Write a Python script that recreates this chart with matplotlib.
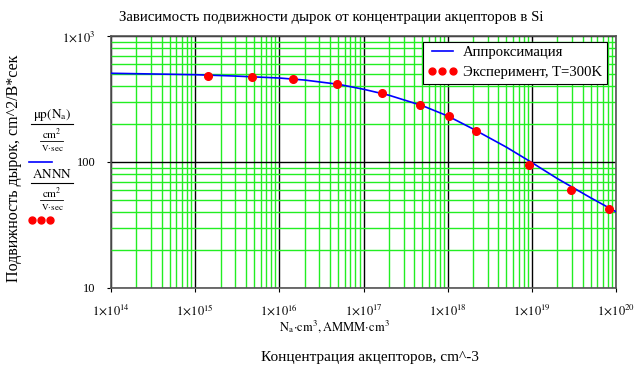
import numpy as np
import matplotlib
matplotlib.use("Agg")
import matplotlib.pyplot as plt
from matplotlib.ticker import FixedLocator, LogLocator, NullFormatter
from matplotlib.lines import Line2D

plt.rcParams["font.family"] = ["Liberation Serif", "DejaVu Serif"]
plt.rcParams["mathtext.fontset"] = "stix"

# experimental points (Na, cm^-3 ; mobility, cm^2/V*s)
exp_na = [1.43e15, 4.7e15, 1.45e16, 4.9e16, 1.66e17, 4.7e17,
          1.03e18, 2.2e18, 9.25e18, 2.9e19, 8.2e19]
exp_mu = [484, 475, 453, 416, 351, 285, 230, 175, 94.6, 59.6, 42.1]

# approximation curve
fit_na = [1e14, 1e15, 3e15, 1e16, 2e16, 5e16, 1e17, 2e17, 5e17, 1e18,
          2e18, 5e18, 1e19, 2e19, 5e19, 1e20]
fit_mu = [506, 493, 481, 464, 447, 414, 378, 339, 280, 232,
          183, 131, 99, 74, 52, 40.3]

xticks = [1e14, 1e15, 1e16, 1e17, 1e18, 1e19, 1e20]
xticklabels = [r"$1\!\times\!10^{%d}$" % p for p in range(14, 21)]
yticks = [10, 100, 1000]
yticklabels = ["10", "100", r"$1\!\times\!10^{3}$"]

fig = plt.figure(figsize=(6.43, 3.74), dpi=100)
ax = fig.add_axes([111 / 643, 1 - 288 / 374, 505 / 643, 252 / 374])

ax.plot(fit_na, fit_mu, color="#0000ff", lw=1.2, label="Аппроксимация", zorder=3)
ax.plot(exp_na, exp_mu, ls="none", marker="o", ms=5.5, color="#ff0000",
        label="Эксперимент, T=300K", zorder=4)

ax.set_xscale("log")
ax.set_yscale("log")
ax.set_xlim(1e14, 1e20)
ax.set_ylim(10, 1000)

ax.xaxis.set_major_locator(FixedLocator(xticks))
ax.set_xticklabels(xticklabels)
ax.yaxis.set_major_locator(FixedLocator(yticks))
ax.set_yticklabels(yticklabels)
ax.xaxis.set_minor_locator(LogLocator(base=10, subs=np.arange(2, 10), numticks=20))
ax.yaxis.set_minor_locator(LogLocator(base=10, subs=np.arange(2, 10), numticks=20))
ax.xaxis.set_minor_formatter(NullFormatter())
ax.yaxis.set_minor_formatter(NullFormatter())

ax.grid(which="minor", color="#22ee22", lw=1.0)
ax.grid(which="major", color="black", lw=1.0)
ax.set_axisbelow(True)
ax.tick_params(which="minor", length=0)
ax.tick_params(which="major", length=3, labelsize=9, pad=8)
for s in ax.spines.values():
    s.set_color("#555555")
    s.set_linewidth(1.2)

leg = ax.legend(loc="upper right", bbox_to_anchor=(0.99, 0.995), numpoints=3,
                handlelength=2.0, markerscale=0.9, fontsize=10.6, fancybox=False,
                framealpha=1, edgecolor="black", borderpad=0.3, labelspacing=0.45,
                handletextpad=0.4, borderaxespad=0.3)
leg.get_frame().set_linewidth(0.8)

fig.text(331 / 643, 1 - 18 / 374, "Зависимость подвижности дырок от концентрации акцепторов в Si",
         ha="center", va="center", fontsize=10.7)
fig.text(335 / 643, 1 - 327 / 374, r"$\mathrm{N_a\!\cdot\!cm^3,AMMM\!\cdot\!cm^3}$",
         ha="center", va="center", fontsize=9)
fig.text(370 / 643, 1 - 357 / 374, "Концентрация акцепторов, cm^-3",
         ha="center", va="center", fontsize=11)
fig.text(14 / 643, 1 - 168 / 374, "Подвижность дырок, cm^2/B*сек",
         ha="center", va="center", rotation=90, fontsize=11.5)

# Mathcad-style y expression labels
def frac_label(y_top, top_text):
    fig.text(52 / 643, 1 - y_top / 374, top_text, ha="center", va="center", fontsize=9.5)
    fig.add_artist(Line2D([31 / 643, 73 / 643], [1 - (y_top + 9) / 374] * 2,
                          color="black", lw=0.8))
    fig.text(52 / 643, 1 - (y_top + 19) / 374, r"$\mathrm{cm^2}$",
             ha="center", va="center", fontsize=8)
    fig.add_artist(Line2D([40 / 643, 63 / 643], [1 - (y_top + 26) / 374] * 2,
                          color="black", lw=0.6))
    fig.text(52 / 643, 1 - (y_top + 33) / 374, r"$\mathrm{V\!\cdot\!sec}$",
             ha="center", va="center", fontsize=6.5)

frac_label(115, r"$\mathrm{\mu p(N_a)}$")
fig.add_artist(Line2D([29 / 643, 52 / 643], [1 - 162 / 374] * 2, color="#0000ff", lw=1.2))
frac_label(174, r"$\mathrm{ANNN}$")
fig.add_artist(Line2D([32 / 643, 41 / 643, 50 / 643], [1 - 220 / 374] * 3, ls="none",
                      marker="o", ms=5, color="#ff0000"))

fig.savefig("out.png", dpi=100)
